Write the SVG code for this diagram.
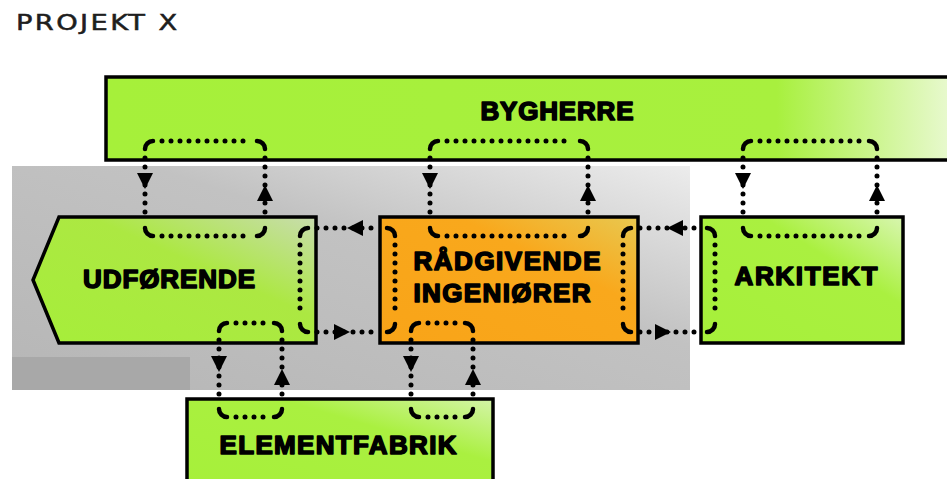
<svg xmlns="http://www.w3.org/2000/svg" xmlns:xlink="http://www.w3.org/1999/xlink" width="947" height="479" viewBox="0 0 947 479">
<defs>
<linearGradient id="gGray" x1="0" y1="1" x2="1" y2="0">
<stop offset="0" stop-color="#b6b6b6"/><stop offset="0.6" stop-color="#c2c2c2"/><stop offset="1" stop-color="#ececec"/>
</linearGradient>
<linearGradient id="gByg" x1="0" y1="0" x2="1" y2="0">
<stop offset="0" stop-color="#a6f03a"/><stop offset="0.78" stop-color="#a8f03e"/><stop offset="1" stop-color="#eefadc"/>
</linearGradient>
<linearGradient id="gUdf" x1="0" y1="1" x2="1" y2="0">
<stop offset="0" stop-color="#a6ee3a"/><stop offset="0.6" stop-color="#ace842"/><stop offset="1" stop-color="#c8dcae"/>
</linearGradient>
<linearGradient id="gRad" x1="0" y1="1" x2="1" y2="0">
<stop offset="0" stop-color="#f9a418"/><stop offset="0.65" stop-color="#f9a81c"/><stop offset="1" stop-color="#e8c850"/>
</linearGradient>
<linearGradient id="gArk" x1="0" y1="1" x2="1" y2="0">
<stop offset="0" stop-color="#a6f03a"/><stop offset="0.65" stop-color="#aaf040"/><stop offset="1" stop-color="#d8f6b0"/>
</linearGradient>
<linearGradient id="gEle" x1="0" y1="1" x2="1" y2="0">
<stop offset="0" stop-color="#a6f03a"/><stop offset="0.65" stop-color="#aaf040"/><stop offset="1" stop-color="#d4f4a8"/>
</linearGradient>
<polygon id="ad" points="-8,-8 8,-8 0,8"/>
<polygon id="au" points="-8,8 8,8 0,-8"/>
<polygon id="al" points="8,-8 8,8 -8,0"/>
<polygon id="ar" points="-8,-8 -8,8 8,0"/>
</defs>
<style>
.box{stroke:#000;stroke-width:3.5}
.lbl{font-family:"Liberation Sans",Arial,sans-serif;font-weight:bold;font-size:26px;fill:#000;stroke:#000;stroke-width:1.6;stroke-linejoin:round;text-anchor:middle}
.dot{fill:none;stroke:#000;stroke-width:5;stroke-linecap:round;stroke-dasharray:0 9}
.arc{fill:none;stroke:#000;stroke-width:4.5;stroke-linecap:round}
.arw{fill:#000}
</style>
<rect x="0" y="0" width="947" height="479" fill="#fff"/>
<text transform="scale(1.3,1)" x="12.3" y="30" font-family="'DejaVu Sans','Liberation Sans',sans-serif" font-size="21" fill="#1e1e1e" stroke="#1e1e1e" stroke-width="0.5" textLength="124" lengthAdjust="spacing">PROJEKT X</text>
<rect x="12" y="166" width="678" height="224" fill="url(#gGray)"/>
<rect x="12" y="357" width="178" height="33" fill="#a8a8a8"/>
<g id="bygherre">
<rect class="box" x="106" y="77" width="860" height="83" fill="url(#gByg)"/>
<text class="lbl" x="557" y="120" textLength="153" lengthAdjust="spacing">BYGHERRE</text>
</g>
<g id="udforende">
<polygon class="box" points="59,217 316,217 316,343 59,343 33,280" fill="url(#gUdf)"/>
<text class="lbl" x="169" y="288" textLength="172" lengthAdjust="spacing">UDFØRENDE</text>
</g>
<g id="radgivende">
<rect class="box" x="380" y="217" width="258" height="126" fill="url(#gRad)"/>
<text class="lbl" x="507" y="270" textLength="187" lengthAdjust="spacing">RÅDGIVENDE</text>
<text class="lbl" x="502" y="302" textLength="177" lengthAdjust="spacing">INGENIØRER</text>
</g>
<g id="arkitekt">
<rect class="box" x="701" y="217" width="202" height="126" fill="url(#gArk)"/>
<text class="lbl" x="806" y="285" textLength="143" lengthAdjust="spacing">ARKITEKT</text>
</g>
<g id="elementfabrik">
<rect class="box" x="187" y="399" width="306" height="90" fill="url(#gEle)"/>
<text class="lbl" x="338" y="454" textLength="237" lengthAdjust="spacing">ELEMENTFABRIK</text>
</g>
<g id="connectors">
<g id="loopA">
<path class="arc" d="M145,149 A8,8 0 0 1 153,141 M257,141 A8,8 0 0 1 265,149 M265,228 A8,8 0 0 1 257,236 M153,236 A8,8 0 0 1 145,228"/>
<path class="dot" d="M162,141 H250 M162,236 H250 M145,158 V220 M265,158 V220"/>
<use href="#ad" x="145" y="181" class="arw"/><use href="#au" x="265" y="193" class="arw"/>
</g>
<g id="loopB">
<path class="arc" d="M430,149 A8,8 0 0 1 438,141 M580,141 A8,8 0 0 1 588,149 M588,228 A8,8 0 0 1 580,236 M438,236 A8,8 0 0 1 430,228"/>
<path class="dot" d="M447,141 H573 M447,236 H573 M430,158 V220 M588,158 V220"/>
<use href="#ad" x="430" y="181" class="arw"/><use href="#au" x="588" y="193" class="arw"/>
</g>
<g id="loopC">
<path class="arc" d="M743,149 A8,8 0 0 1 751,141 M869,141 A8,8 0 0 1 877,149 M877,228 A8,8 0 0 1 869,236 M751,236 A8,8 0 0 1 743,228"/>
<path class="dot" d="M760,141 H862 M760,236 H862 M743,158 V220 M877,158 V220"/>
<use href="#ad" x="743" y="181" class="arw"/><use href="#au" x="877" y="193" class="arw"/>
</g>
<g id="loopD">
<path class="arc" d="M300,236 A8,8 0 0 1 308,228 M387,228 A8,8 0 0 1 395,236 M395,324 A8,8 0 0 1 387,332 M308,332 A8,8 0 0 1 300,324"/>
<path class="dot" d="M317,228 H380 M317,332 H380 M300,245 V316 M395,245 V316"/>
<use href="#al" x="355" y="228" class="arw"/><use href="#ar" x="342" y="332" class="arw"/>
</g>
<g id="loopE">
<path class="arc" d="M623,236 A8,8 0 0 1 631,228 M707,228 A8,8 0 0 1 715,236 M715,324 A8,8 0 0 1 707,332 M631,332 A8,8 0 0 1 623,324"/>
<path class="dot" d="M640,228 H700 M640,332 H700 M623,245 V316 M715,245 V316"/>
<use href="#al" x="675" y="228" class="arw"/><use href="#ar" x="663" y="332" class="arw"/>
</g>
<g id="loopF">
<path class="arc" d="M219,331 A8,8 0 0 1 227,323 M274,323 A8,8 0 0 1 282,331 M282,409 A8,8 0 0 1 274,417 M227,417 A8,8 0 0 1 219,409"/>
<path class="dot" d="M236,323 H267 M236,417 H267 M219,340 V401 M282,340 V401"/>
<use href="#ad" x="219" y="364" class="arw"/><use href="#au" x="282" y="377" class="arw"/>
</g>
<g id="loopG">
<path class="arc" d="M411,331 A8,8 0 0 1 419,323 M465,323 A8,8 0 0 1 473,331 M473,409 A8,8 0 0 1 465,417 M419,417 A8,8 0 0 1 411,409"/>
<path class="dot" d="M428,323 H458 M428,417 H458 M411,340 V401 M473,340 V401"/>
<use href="#ad" x="411" y="364" class="arw"/><use href="#au" x="473" y="377" class="arw"/>
</g>
</g>
</svg>
